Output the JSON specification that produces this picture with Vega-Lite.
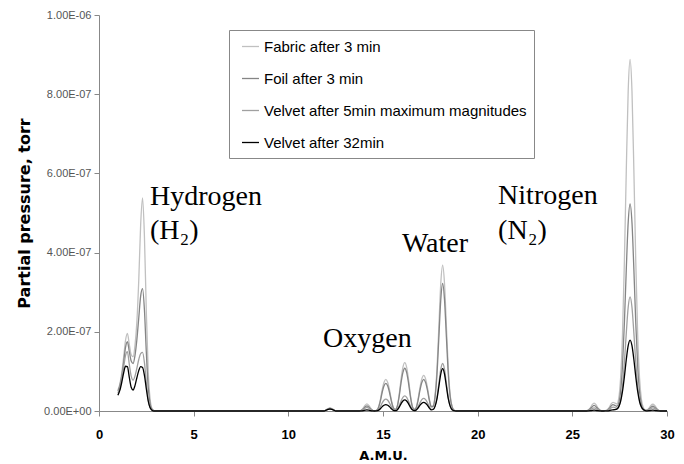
{
  "$schema": "https://vega.github.io/schema/vega-lite/v6.json",
  "width": 568,
  "height": 396,
  "autosize": {"type": "none"},
  "padding": {"left": 99, "top": 15, "right": 17, "bottom": 53},
  "background": "white",
  "config": {"view": {"stroke": null}, "font": "Liberation Sans", "axis": {"grid": false}},
  "layer": [
    {
      "data": {"values": [
        {"amu": 1.0, "a": 53e-9, "b": 50e-9, "c": 45e-9, "d": 40e-9},
        {"amu": 1.1, "a": 68e-9, "b": 64e-9, "c": 58e-9, "d": 52e-9},
        {"amu": 1.2, "a": 95e-9, "b": 88e-9, "c": 80e-9, "d": 72e-9},
        {"amu": 1.3, "a": 135e-9, "b": 122e-9, "c": 110e-9, "d": 96e-9},
        {"amu": 1.4, "a": 178e-9, "b": 160e-9, "c": 140e-9, "d": 113e-9},
        {"amu": 1.5, "a": 196e-9, "b": 175e-9, "c": 150e-9, "d": 112e-9},
        {"amu": 1.6, "a": 168e-9, "b": 150e-9, "c": 118e-9, "d": 85e-9},
        {"amu": 1.7, "a": 142e-9, "b": 126e-9, "c": 88e-9, "d": 60e-9},
        {"amu": 1.8, "a": 137e-9, "b": 120e-9, "c": 78e-9, "d": 53e-9},
        {"amu": 1.9, "a": 165e-9, "b": 140e-9, "c": 88e-9, "d": 64e-9},
        {"amu": 2.0, "a": 225e-9, "b": 180e-9, "c": 108e-9, "d": 84e-9},
        {"amu": 2.1, "a": 330e-9, "b": 235e-9, "c": 130e-9, "d": 102e-9},
        {"amu": 2.2, "a": 470e-9, "b": 290e-9, "c": 145e-9, "d": 112e-9},
        {"amu": 2.3, "a": 538e-9, "b": 309e-9, "c": 148e-9, "d": 110e-9},
        {"amu": 2.4, "a": 440e-9, "b": 255e-9, "c": 122e-9, "d": 90e-9},
        {"amu": 2.5, "a": 250e-9, "b": 148e-9, "c": 72e-9, "d": 56e-9},
        {"amu": 2.6, "a": 100e-9, "b": 60e-9, "c": 30e-9, "d": 25e-9},
        {"amu": 2.7, "a": 30e-9, "b": 18e-9, "c": 9e-9, "d": 8e-9},
        {"amu": 2.8, "a": 6e-9, "b": 4e-9, "c": 2e-9, "d": 2e-9},
        {"amu": 2.9, "a": 1e-9, "b": 1e-9, "c": 0, "d": 0},
        {"amu": 3.0, "a": 0, "b": 0, "c": 0, "d": 0},
        {"amu": 6.0, "a": 0, "b": 0, "c": 0, "d": 0},
        {"amu": 9.0, "a": 0, "b": 0, "c": 0, "d": 0},
        {"amu": 11.9, "a": 0, "b": 0, "c": 0, "d": 0},
        {"amu": 12.0, "a": 3e-9, "b": 3e-9, "c": 2e-9, "d": 2e-9},
        {"amu": 12.1, "a": 6e-9, "b": 5e-9, "c": 5e-9, "d": 4e-9},
        {"amu": 12.2, "a": 8e-9, "b": 7e-9, "c": 6e-9, "d": 5e-9},
        {"amu": 12.3, "a": 6e-9, "b": 5e-9, "c": 5e-9, "d": 4e-9},
        {"amu": 12.4, "a": 3e-9, "b": 3e-9, "c": 2e-9, "d": 2e-9},
        {"amu": 12.5, "a": 0, "b": 0, "c": 0, "d": 0},
        {"amu": 13.75, "a": 0, "b": 0, "c": 0, "d": 0},
        {"amu": 13.85, "a": 2e-9, "b": 1.5e-9, "c": 1e-9, "d": 0.3e-9},
        {"amu": 13.95, "a": 7e-9, "b": 5e-9, "c": 3.5e-9, "d": 1e-9},
        {"amu": 14.05, "a": 14e-9, "b": 10e-9, "c": 7e-9, "d": 2e-9},
        {"amu": 14.15, "a": 18e-9, "b": 13e-9, "c": 9e-9, "d": 3e-9},
        {"amu": 14.25, "a": 14e-9, "b": 10e-9, "c": 7e-9, "d": 2e-9},
        {"amu": 14.35, "a": 7e-9, "b": 5e-9, "c": 3.5e-9, "d": 1e-9},
        {"amu": 14.45, "a": 2e-9, "b": 1.5e-9, "c": 1e-9, "d": 0.3e-9},
        {"amu": 14.55, "a": 0, "b": 0, "c": 0, "d": 0},
        {"amu": 14.65, "a": 1.6e-9, "b": 1.4e-9, "c": 0.6e-9, "d": 0.3e-9},
        {"amu": 14.75, "a": 8e-9, "b": 7e-9, "c": 3e-9, "d": 1.6e-9},
        {"amu": 14.85, "a": 26e-9, "b": 23e-9, "c": 9.9e-9, "d": 5.3e-9},
        {"amu": 14.95, "a": 52e-9, "b": 45.5e-9, "c": 19.5e-9, "d": 10.4e-9},
        {"amu": 15.05, "a": 72e-9, "b": 63e-9, "c": 27e-9, "d": 14.4e-9},
        {"amu": 15.15, "a": 80e-9, "b": 70e-9, "c": 30e-9, "d": 16e-9},
        {"amu": 15.25, "a": 72e-9, "b": 63e-9, "c": 27e-9, "d": 14.4e-9},
        {"amu": 15.35, "a": 52e-9, "b": 45.5e-9, "c": 19.5e-9, "d": 10.4e-9},
        {"amu": 15.45, "a": 26e-9, "b": 23e-9, "c": 9.9e-9, "d": 5.3e-9},
        {"amu": 15.55, "a": 8.4e-9, "b": 7.4e-9, "c": 3.1e-9, "d": 1.7e-9},
        {"amu": 15.65, "a": 4e-9, "b": 3.6e-9, "c": 1.4e-9, "d": 0.9e-9},
        {"amu": 15.75, "a": 12e-9, "b": 10.8e-9, "c": 3.8e-9, "d": 2.8e-9},
        {"amu": 15.85, "a": 40e-9, "b": 35.6e-9, "c": 12.5e-9, "d": 9.2e-9},
        {"amu": 15.95, "a": 79e-9, "b": 70e-9, "c": 24.7e-9, "d": 18.2e-9},
        {"amu": 16.05, "a": 110e-9, "b": 97e-9, "c": 34.2e-9, "d": 25.2e-9},
        {"amu": 16.15, "a": 122e-9, "b": 108e-9, "c": 38e-9, "d": 28e-9},
        {"amu": 16.25, "a": 110e-9, "b": 97e-9, "c": 34.2e-9, "d": 25.2e-9},
        {"amu": 16.35, "a": 79e-9, "b": 70e-9, "c": 24.7e-9, "d": 18.2e-9},
        {"amu": 16.45, "a": 40e-9, "b": 35.6e-9, "c": 12.5e-9, "d": 9.2e-9},
        {"amu": 16.55, "a": 12e-9, "b": 11e-9, "c": 4e-9, "d": 2.9e-9},
        {"amu": 16.65, "a": 4e-9, "b": 3.8e-9, "c": 1.4e-9, "d": 1e-9},
        {"amu": 16.75, "a": 9e-9, "b": 8e-9, "c": 3.2e-9, "d": 2.2e-9},
        {"amu": 16.85, "a": 29.7e-9, "b": 26.4e-9, "c": 10.6e-9, "d": 7.3e-9},
        {"amu": 16.95, "a": 58.5e-9, "b": 52e-9, "c": 20.8e-9, "d": 14.3e-9},
        {"amu": 17.05, "a": 81e-9, "b": 72e-9, "c": 28.8e-9, "d": 19.8e-9},
        {"amu": 17.15, "a": 90e-9, "b": 80e-9, "c": 32e-9, "d": 22e-9},
        {"amu": 17.25, "a": 81e-9, "b": 72e-9, "c": 28.8e-9, "d": 19.8e-9},
        {"amu": 17.35, "a": 58.5e-9, "b": 52e-9, "c": 20.8e-9, "d": 14.3e-9},
        {"amu": 17.45, "a": 30e-9, "b": 26.8e-9, "c": 10.7e-9, "d": 7.3e-9},
        {"amu": 17.55, "a": 12e-9, "b": 10.3e-9, "c": 4.1e-9, "d": 2.7e-9},
        {"amu": 17.65, "a": 13e-9, "b": 11.6e-9, "c": 4.4e-9, "d": 3.8e-9},
        {"amu": 17.75, "a": 40e-9, "b": 35e-9, "c": 13e-9, "d": 11.7e-9},
        {"amu": 17.85, "a": 106e-9, "b": 92e-9, "c": 34e-9, "d": 30.7e-9},
        {"amu": 17.95, "a": 212e-9, "b": 185e-9, "c": 69e-9, "d": 61.5e-9},
        {"amu": 18.05, "a": 321e-9, "b": 280e-9, "c": 105e-9, "d": 93.2e-9},
        {"amu": 18.15, "a": 368e-9, "b": 322e-9, "c": 120e-9, "d": 107e-9},
        {"amu": 18.25, "a": 321e-9, "b": 280e-9, "c": 105e-9, "d": 93.2e-9},
        {"amu": 18.35, "a": 212e-9, "b": 185e-9, "c": 69e-9, "d": 61.5e-9},
        {"amu": 18.45, "a": 106e-9, "b": 92e-9, "c": 34e-9, "d": 30.7e-9},
        {"amu": 18.55, "a": 40e-9, "b": 35e-9, "c": 13e-9, "d": 11.7e-9},
        {"amu": 18.65, "a": 11e-9, "b": 10e-9, "c": 4e-9, "d": 3.3e-9},
        {"amu": 18.75, "a": 3e-9, "b": 2e-9, "c": 1e-9, "d": 0.8e-9},
        {"amu": 18.85, "a": 0, "b": 0, "c": 0, "d": 0},
        {"amu": 22.0, "a": 0, "b": 0, "c": 0, "d": 0},
        {"amu": 25.65, "a": 0, "b": 0, "c": 0, "d": 0},
        {"amu": 25.75, "a": 1e-9, "b": 0.4e-9, "c": 0.2e-9, "d": 0},
        {"amu": 25.85, "a": 3e-9, "b": 2e-9, "c": 1.1e-9, "d": 0.3e-9},
        {"amu": 25.95, "a": 8e-9, "b": 6e-9, "c": 3.3e-9, "d": 0.8e-9},
        {"amu": 26.05, "a": 16e-9, "b": 11e-9, "c": 6.4e-9, "d": 1.6e-9},
        {"amu": 26.15, "a": 20e-9, "b": 14e-9, "c": 8e-9, "d": 2e-9},
        {"amu": 26.25, "a": 16e-9, "b": 11e-9, "c": 6.4e-9, "d": 1.6e-9},
        {"amu": 26.35, "a": 8e-9, "b": 6e-9, "c": 3.3e-9, "d": 0.8e-9},
        {"amu": 26.45, "a": 3e-9, "b": 2e-9, "c": 1.1e-9, "d": 0.3e-9},
        {"amu": 26.55, "a": 1e-9, "b": 0.4e-9, "c": 0.2e-9, "d": 0},
        {"amu": 26.65, "a": 0, "b": 0, "c": 0, "d": 0},
        {"amu": 26.75, "a": 1e-9, "b": 0.4e-9, "c": 0.3e-9, "d": 0.1e-9},
        {"amu": 26.85, "a": 3e-9, "b": 2e-9, "c": 1.4e-9, "d": 0.4e-9},
        {"amu": 26.95, "a": 9e-9, "b": 6.6e-9, "c": 4.1e-9, "d": 1.2e-9},
        {"amu": 27.05, "a": 18e-9, "b": 12.8e-9, "c": 8e-9, "d": 2.4e-9},
        {"amu": 27.15, "a": 22e-9, "b": 16e-9, "c": 10e-9, "d": 3e-9},
        {"amu": 27.25, "a": 20e-9, "b": 14e-9, "c": 8.7e-9, "d": 3.4e-9},
        {"amu": 27.35, "a": 18e-9, "b": 12e-9, "c": 6.9e-9, "d": 4.8e-9},
        {"amu": 27.45, "a": 32e-9, "b": 19.5e-9, "c": 10.9e-9, "d": 10.4e-9},
        {"amu": 27.55, "a": 84e-9, "b": 49.6e-9, "c": 27.3e-9, "d": 24.1e-9},
        {"amu": 27.65, "a": 195e-9, "b": 115e-9, "c": 63e-9, "d": 50e-9},
        {"amu": 27.75, "a": 379e-9, "b": 223e-9, "c": 123e-9, "d": 87e-9},
        {"amu": 27.85, "a": 608e-9, "b": 358e-9, "c": 197e-9, "d": 130e-9},
        {"amu": 27.95, "a": 808e-9, "b": 476e-9, "c": 262e-9, "d": 165e-9},
        {"amu": 28.05, "a": 888e-9, "b": 523e-9, "c": 288e-9, "d": 179e-9},
        {"amu": 28.15, "a": 808e-9, "b": 476e-9, "c": 262e-9, "d": 165e-9},
        {"amu": 28.25, "a": 608e-9, "b": 358e-9, "c": 197e-9, "d": 130e-9},
        {"amu": 28.35, "a": 379e-9, "b": 223e-9, "c": 123e-9, "d": 87e-9},
        {"amu": 28.45, "a": 195e-9, "b": 115e-9, "c": 63e-9, "d": 50e-9},
        {"amu": 28.55, "a": 83e-9, "b": 49e-9, "c": 27e-9, "d": 24e-9},
        {"amu": 28.65, "a": 29e-9, "b": 17e-9, "c": 9.5e-9, "d": 10e-9},
        {"amu": 28.75, "a": 9e-9, "b": 5e-9, "c": 2.8e-9, "d": 3.6e-9},
        {"amu": 28.85, "a": 3e-9, "b": 1.6e-9, "c": 0.9e-9, "d": 1e-9},
        {"amu": 28.95, "a": 3e-9, "b": 1.8e-9, "c": 1.2e-9, "d": 0.4e-9},
        {"amu": 29.05, "a": 7e-9, "b": 4.9e-9, "c": 3.3e-9, "d": 0.8e-9},
        {"amu": 29.15, "a": 14e-9, "b": 9.6e-9, "c": 6.4e-9, "d": 1.6e-9},
        {"amu": 29.25, "a": 17e-9, "b": 12e-9, "c": 8e-9, "d": 2e-9},
        {"amu": 29.35, "a": 14e-9, "b": 9.6e-9, "c": 6.4e-9, "d": 1.6e-9},
        {"amu": 29.45, "a": 7e-9, "b": 4.9e-9, "c": 3.3e-9, "d": 0.8e-9},
        {"amu": 29.55, "a": 2e-9, "b": 1.6e-9, "c": 1.1e-9, "d": 0.3e-9},
        {"amu": 29.65, "a": 0.5e-9, "b": 0.3e-9, "c": 0.2e-9, "d": 0},
        {"amu": 29.75, "a": 0, "b": 0, "c": 0, "d": 0},
        {"amu": 30.0, "a": 0, "b": 0, "c": 0, "d": 0}
      ]},
      "transform": [{"fold": ["a", "b", "c", "d"], "as": ["s", "p"]}],
      "mark": {"type": "line", "interpolate": "monotone"},
      "encoding": {
        "x": {
          "field": "amu", "type": "quantitative",
          "scale": {"domain": [0, 30], "nice": false},
          "axis": {
            "values": [0, 5, 10, 15, 20, 25, 30],
            "title": "A.M.U.", "titleFont": "DejaVu Sans", "titleFontSize": 13, "titleFontWeight": "bold", "titleColor": "black", "titlePadding": 8,
            "labelFontSize": 13, "labelFontWeight": "bold", "labelColor": "black", "labelPadding": 12,
            "tickSize": 5, "tickColor": "#888", "domainColor": "#888", "labelFlush": false
          }
        },
        "y": {
          "field": "p", "type": "quantitative",
          "scale": {"domain": [0, 1e-6], "nice": false},
          "axis": {
            "values": [0, 2e-7, 4e-7, 6e-7, 8e-7, 1e-6],
            "labelExpr": "datum.value == 0 ? '0.00E+00' : (datum.value > 9.9e-7 ? '1.00E-06' : format(datum.value * 1e7, '.2f') + 'E-07')",
            "title": "Partial pressure, torr", "titleFont": "DejaVu Sans", "titleFontSize": 16, "titleFontWeight": "bold", "titleColor": "black", "titlePadding": 11,
            "labelFontSize": 11, "labelColor": "#555", "labelPadding": 3,
            "tickSize": 5, "tickColor": "#888", "domainColor": "#888", "labelFlush": false
          }
        },
        "color": {
          "field": "s", "type": "nominal",
          "scale": {"domain": ["a", "b", "c", "d"], "range": ["#c0c0c0", "#858585", "#a0a0a0", "#000000"]},
          "legend": {
            "orient": "none", "legendX": 130, "legendY": 15, "title": null, "direction": "vertical",
            "labelExpr": "datum.label == 'a' ? 'Fabric after 3 min' : datum.label == 'b' ? 'Foil after 3 min' : datum.label == 'c' ? 'Velvet after 5min maximum magnitudes' : 'Velvet after 32min'",
            "labelFontSize": 15, "labelColor": "black", "labelFont": "Liberation Sans", "labelOffset": 4, "labelLimit": 0,
            "symbolType": "stroke", "symbolSize": 289, "symbolStrokeWidth": 1.6, "symbolOffset": 5,
            "rowPadding": 14, "padding": 7, "strokeColor": "#888", "fillColor": "white"
          }
        },
        "strokeWidth": {
          "field": "s", "type": "nominal",
          "scale": {"domain": ["a", "b", "c", "d"], "range": [1.3, 1.3, 1.3, 2]},
          "legend": null
        }
      }
    },
    {
      "data": {"values": [
        {"amu": 2.69, "p": 520e-9, "t": "Hydrogen"},
        {"amu": 2.69, "p": 434e-9, "t": "(H₂)"},
        {"amu": 11.83, "p": 162e-9, "t": "Oxygen"},
        {"amu": 16.0, "p": 402e-9, "t": "Water"},
        {"amu": 21.08, "p": 523e-9, "t": "Nitrogen"},
        {"amu": 21.08, "p": 434e-9, "t": "(N₂)"}
      ]},
      "mark": {"type": "text", "align": "left", "baseline": "alphabetic", "font": "Liberation Serif", "fontSize": 28, "color": "black"},
      "encoding": {
        "x": {"field": "amu", "type": "quantitative"},
        "y": {"field": "p", "type": "quantitative"},
        "text": {"field": "t", "type": "nominal"}
      }
    }
  ]
}
